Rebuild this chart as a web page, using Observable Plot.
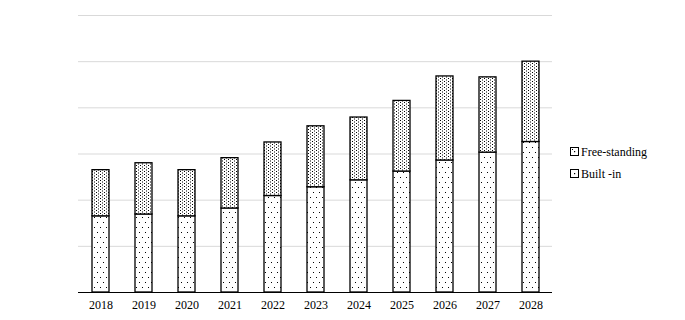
<!DOCTYPE html>
<html>
<head>
<meta charset="utf-8">
<script src="https://cdn.jsdelivr.net/npm/d3@7"></script>
<script src="https://cdn.jsdelivr.net/npm/@observablehq/plot@0.6"></script>
<style>
  html, body { margin: 0; padding: 0; background: #fff; }
  #wrap { position: relative; width: 685px; height: 320px; }
  #legend { position: absolute; left: 566px; top: 140px; }
</style>
</head>
<body>
<div id="wrap">
  <svg width="0" height="0" style="position:absolute">
    <defs>
      <pattern id="pBuilt" patternUnits="userSpaceOnUse" width="6" height="10">
        <rect width="6" height="10" fill="#fff"/>
        <rect x="1" y="2" width="1" height="1" fill="#000"/>
        <rect x="4" y="7" width="1" height="1" fill="#000"/>
      </pattern>
      <pattern id="pFree" patternUnits="userSpaceOnUse" width="4" height="6">
        <rect width="4" height="6" fill="#fff"/>
        <rect x="0" y="0" width="1" height="1" fill="#000"/>
        <rect x="2" y="1.5" width="1" height="1" fill="#000"/>
        <rect x="0" y="3" width="1" height="1" fill="#000"/>
        <rect x="2" y="4.5" width="1" height="1" fill="#000"/>
      </pattern>
    </defs>
  </svg>
  <div id="chart"></div>
  <div id="legend"></div>
</div>
<script>
const years = ["2018","2019","2020","2021","2022","2023","2024","2025","2026","2027","2028"];
const builtIn = [16.5, 16.9, 16.5, 18.2, 20.9, 22.8, 24.3, 26.2, 28.6, 30.3, 32.6];
const freeStanding = [10.0, 11.1, 10.0, 10.9, 11.6, 13.2, 13.6, 15.3, 18.2, 16.3, 17.4];
const seriesNames = ["Built-in", "Free-standing"];
const legendLabels = ["Free-standing", "Built -in"];
const gridTicks = [10, 20, 30, 40, 50, 60];

const rows = [];
years.forEach((y, i) => rows.push({year: y, series: seriesNames[0], value: builtIn[i]}));
years.forEach((y, i) => rows.push({year: y, series: seriesNames[1], value: freeStanding[i]}));

const chart = Plot.plot({
  width: 685,
  height: 320,
  marginLeft: 78,
  marginRight: 133,
  marginTop: 15,
  marginBottom: 28,
  style: {fontFamily: "'Liberation Serif', 'Times New Roman', serif", fontSize: "12px", color: "#000", background: "#fff"},
  x: {domain: years, paddingInner: 0.605, paddingOuter: 0.3, label: null},
  y: {domain: [0, 60], axis: null},
  color: {type: "ordinal", domain: seriesNames, range: ["url(#pBuilt)", "url(#pFree)"]},
  marks: [
    Plot.ruleY(gridTicks, {stroke: "#d9d9d9", strokeWidth: 1}),
    Plot.barY(rows, Plot.stackY({x: "year", y: "value", z: "series", fill: "series", order: null, stroke: "#000", strokeWidth: 1.3})),
    Plot.ruleY([0], {stroke: "#000", strokeWidth: 1.2}),
    Plot.axisX({tickSize: 0, tickPadding: 8, fontSize: 12})
  ]
});
document.getElementById("chart").appendChild(chart);

// Legend as SVG text (serif)
const lg = d3.select("#legend").append("svg").attr("width", 115).attr("height", 45)
  .style("font-family", "'Liberation Serif', 'Times New Roman', serif").style("font-size", "12px");
legendLabels.forEach((lab, i) => {
  const g = lg.append("g").attr("transform", `translate(4,${7 + i * 22})`);
  g.append("rect").attr("x", 0.5).attr("y", 0.5).attr("width", 8).attr("height", 8).attr("fill", "#fff").attr("stroke", "#000");
  g.append("rect").attr("x", 4).attr("y", 4).attr("width", 1.2).attr("height", 1.2).attr("fill", "#000");
  if (i === 0) g.append("rect").attr("x", 2).attr("y", 2).attr("width", 1).attr("height", 1).attr("fill", "#000");
  g.append("text").attr("x", 11).attr("y", 4.5).attr("dy", "0.35em").attr("fill", "#000").text(lab);
});
</script>
</body>
</html>
